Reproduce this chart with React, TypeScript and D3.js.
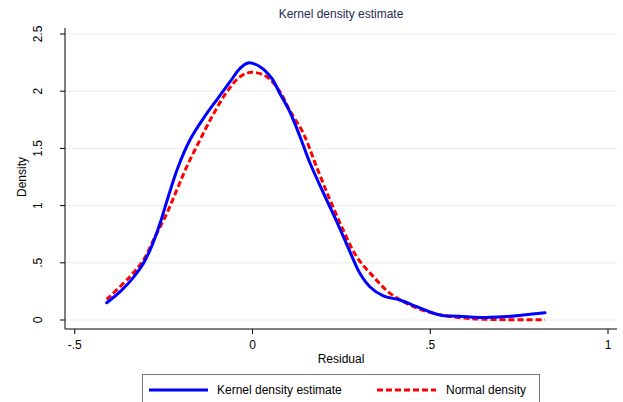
import React from "react";
import * as d3 from "d3";

const kernelX = [-0.41, -0.37, -0.335, -0.307, -0.284, -0.26, -0.237, -0.209, -0.176, -0.138, -0.101, -0.063, -0.035, -0.012, 0.021, 0.054, 0.077, 0.105, 0.134, 0.162, 0.2, 0.237, 0.274, 0.302, 0.33, 0.368, 0.415, 0.462, 0.527, 0.575, 0.621, 0.668, 0.715, 0.762, 0.823];
const kernelY = [0.151, 0.255, 0.373, 0.495, 0.641, 0.845, 1.078, 1.34, 1.573, 1.763, 1.923, 2.083, 2.2, 2.247, 2.214, 2.113, 1.98, 1.82, 1.6, 1.37, 1.107, 0.86, 0.597, 0.408, 0.291, 0.21, 0.175, 0.117, 0.044, 0.033, 0.025, 0.023, 0.03, 0.044, 0.064];

const normalX = [-0.41, -0.345, -0.307, -0.274, -0.241, -0.213, -0.185, -0.148, -0.11, -0.073, -0.035, -0.002, 0.04, 0.077, 0.105, 0.143, 0.18, 0.218, 0.255, 0.293, 0.34, 0.387, 0.443, 0.509, 0.603, 0.715, 0.823];
const normalY = [0.18, 0.379, 0.524, 0.728, 0.932, 1.136, 1.34, 1.573, 1.8, 1.99, 2.127, 2.165, 2.127, 1.996, 1.83, 1.632, 1.34, 1.049, 0.787, 0.553, 0.379, 0.233, 0.131, 0.058, 0.015, 0.003, 0.002];

const xTicks = [-0.5, 0, 0.5, 1];
const xTickLabels = ["-.5", "0", ".5", "1"];
const yTicks = [0, 0.5, 1, 1.5, 2, 2.5];
const yTickLabels = ["0", ".5", "1", "1.5", "2", "2.5"];

const title = "Kernel density estimate";
const xTitle = "Residual";
const yTitle = "Density";
const legendLabels = ["Kernel density estimate", "Normal density"];

export default function App() {
  const W = 623, H = 402;
  const left = 65, right = 617, top = 28, axisY = 329;
  const x = d3.scaleLinear().domain([0, 1]).range([252.5, 608]);
  const y = d3.scaleLinear().domain([0, 2.5]).range([320, 34]);
  const line = d3
    .line<[number, number]>()
    .x((d) => x(d[0]))
    .y((d) => y(d[1]))
    .curve(d3.curveCatmullRom.alpha(0.5));
  const kPts: [number, number][] = kernelX.map((v, i) => [v, kernelY[i]]);
  const nPts: [number, number][] = normalX.map((v, i) => [v, normalY[i]]);
  const font = "'Liberation Sans', Arial, Helvetica, sans-serif";
  return (
    <svg width={W} height={H} style={{ position: "absolute", left: 0, top: 0, background: "#fff" }} fontFamily={font}>
      <rect x={0} y={0} width={W} height={H} fill="#fff" />
      <text x={(left + right) / 2} y={18} textAnchor="middle" fontSize={12} fill="#1e2c4e">{title}</text>
      {yTicks.map((t) => (
        <line key={"g" + t} x1={left} x2={right} y1={y(t)} y2={y(t)} stroke="#ececec" strokeWidth={1} />
      ))}
      <path d={line(nPts) || ""} fill="none" stroke="#ff0000" strokeWidth={3} strokeDasharray="6,3" />
      <path d={line(kPts) || ""} fill="none" stroke="#0000ff" strokeWidth={3} strokeLinejoin="round" strokeLinecap="round" />
      <line x1={left} x2={left} y1={top} y2={axisY} stroke="#000" strokeWidth={1} />
      <line x1={left} x2={right} y1={axisY} y2={axisY} stroke="#000" strokeWidth={1} />
      {yTicks.map((t, i) => (
        <g key={"y" + t}>
          <line x1={left - 5} x2={left} y1={y(t)} y2={y(t)} stroke="#000" />
          <text transform={`translate(${left - 27},${y(t)}) rotate(-90)`} textAnchor="middle" dy="0.36em" fontSize={12} fill="#000">{yTickLabels[i]}</text>
        </g>
      ))}
      {xTicks.map((t, i) => (
        <g key={"x" + t}>
          <line x1={x(t)} x2={x(t)} y1={axisY} y2={axisY + 5} stroke="#000" />
          <text x={x(t)} y={349} textAnchor="middle" fontSize={12} fill="#000">{xTickLabels[i]}</text>
        </g>
      ))}
      <text x={(left + right) / 2} y={363} textAnchor="middle" fontSize={12} fill="#000">{xTitle}</text>
      <text transform={`translate(26,${(34 + 320) / 2}) rotate(-90)`} textAnchor="middle" fontSize={12} fill="#000">{yTitle}</text>
      <rect x={142.5} y={374.5} width={397} height={40} fill="#fff" stroke="#777" strokeWidth={1} />
      <line x1={149} x2={208} y1={390} y2={390} stroke="#0000ff" strokeWidth={3} />
      <text x={217} y={394} fontSize={12} fill="#000">{legendLabels[0]}</text>
      <line x1={377} x2={436} y1={390} y2={390} stroke="#ff0000" strokeWidth={3} strokeDasharray="6,3" />
      <text x={446} y={394} fontSize={12} fill="#000">{legendLabels[1]}</text>
    </svg>
  );
}
